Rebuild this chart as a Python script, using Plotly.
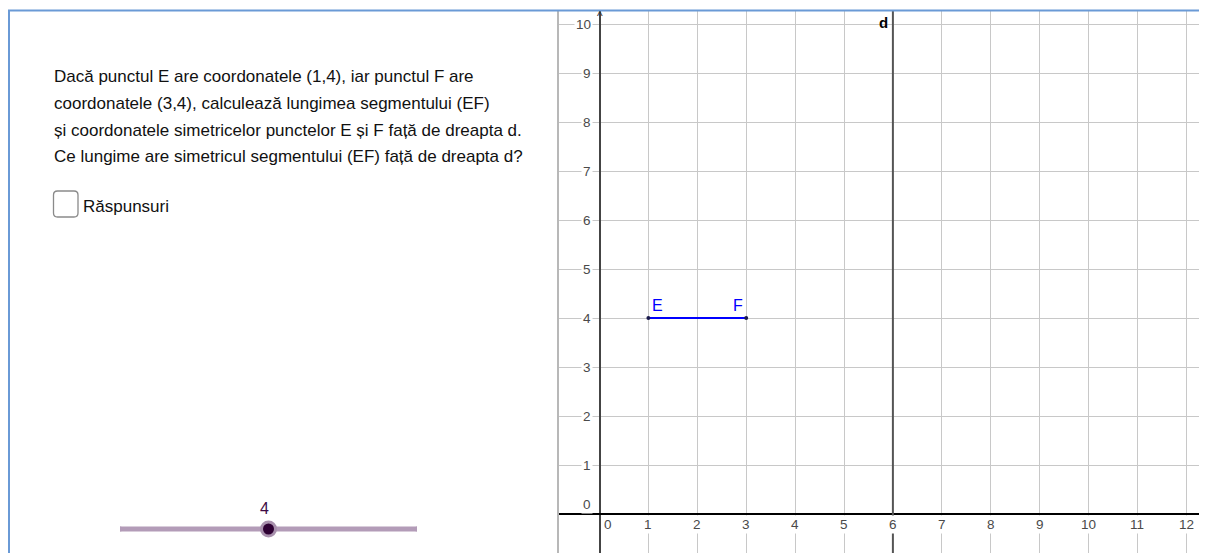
import plotly.graph_objects as go

# ---------------- data ----------------
x_ticks = [1, 2, 3, 4, 5, 6, 7, 8, 9, 10, 11, 12]
y_ticks = [1, 2, 3, 4, 5, 6, 7, 8, 9, 10]
origin_label = "0"

seg_labels = ["E", "F"]
seg_x = [1, 3]
seg_y = [4, 4]

line_d_x = 6
line_d_label = "d"

question_lines = [
    "Dacă punctul E are coordonatele (1,4), iar punctul F are",
    "coordonatele (3,4), calculează lungimea segmentului (EF)",
    "și coordonatele simetricelor punctelor E și F față de dreapta d.",
    "Ce lungime are simetricul segmentului (EF) față de dreapta d?",
]
checkbox_label = "Răspunsuri"

slider_min = 0
slider_max = 8
slider_value = 4

# ---------------- layout constants ----------------
OFF = 8                      # page body margin
W, H = 1207 - OFF, 553 - OFF
FONT = "Liberation Sans, Arial, sans-serif"
x_range = [(558 - 599.5) / 48.9, (1207 - 599.5) / 48.9]
y_range = [(514 - 553) / 49.0, (514 - 11) / 49.0]


def px(x):
    return (x - OFF) / W


def py(y):
    return 1 - (y - OFF) / H


top_frac = py(11)

fig = go.Figure()

# segment EF
fig.add_trace(go.Scatter(
    x=seg_x, y=seg_y, mode="lines+markers+text",
    line=dict(color="#0000ff", width=2),
    marker=dict(size=4, color="#1a1a4d"),
    text=seg_labels, textposition=["top right", "top left"],
    textfont=dict(family=FONT, size=16, color="#0000ff"),
    xaxis="x", yaxis="y", hoverinfo="skip", showlegend=False,
))

# slider track and knob
fig.add_trace(go.Scatter(
    x=[slider_min, slider_max], y=[0, 0], mode="lines+markers",
    line=dict(color="#b39cb8", width=5),
    marker=dict(size=5, color="#b39cb8"),
    xaxis="x2", yaxis="y2", hoverinfo="skip", showlegend=False,
))
fig.add_trace(go.Scatter(
    x=[slider_value], y=[0], mode="markers",
    marker=dict(size=17, color="#a890ad"),
    xaxis="x2", yaxis="y2", hoverinfo="skip", showlegend=False,
))
fig.add_trace(go.Scatter(
    x=[slider_value], y=[0], mode="markers",
    marker=dict(size=11, color="#2e0033"),
    xaxis="x2", yaxis="y2", hoverinfo="skip", showlegend=False,
))

TICKFONT = dict(family=FONT, size=13.5, color="#4a4a4a")
annotations = []
# tick labels
for v in x_ticks:
    annotations.append(dict(x=v, y=0, xref="x", yref="y", text=str(v), showarrow=False,
                            yshift=-10, font=TICKFONT, bgcolor="white", borderpad=1))
for v in y_ticks:
    annotations.append(dict(x=0, y=v, xref="x", yref="y", text=str(v), showarrow=False,
                            xanchor="right", xshift=-7, font=TICKFONT,
                            bgcolor="white", borderpad=1))
annotations.append(dict(x=0, y=0, xref="x", yref="y", text=origin_label, showarrow=False,
                        xanchor="left", xshift=2, yshift=-10, font=TICKFONT, bgcolor="white"))
annotations.append(dict(x=0, y=0, xref="x", yref="y", text=origin_label, showarrow=False,
                        xanchor="right", xshift=-7, yshift=10, font=TICKFONT, bgcolor="white"))
# y-axis arrow
annotations.append(dict(x=0, y=y_range[1], xref="x", yref="y", text="^", showarrow=False,
                        yanchor="top", yshift=4, font=dict(family=FONT, size=12, color="#333")))
# line d label
annotations.append(dict(x=line_d_x, y=y_range[1], xref="x", yref="y", text="<b>" + line_d_label + "</b>",
                        showarrow=False, xanchor="right", yanchor="top", xshift=-3, yshift=-1,
                        font=dict(family=FONT, size=15, color="#000")))
# question text
for i, line in enumerate(question_lines):
    annotations.append(dict(x=px(52), y=py(76 + 27 * i), xref="paper", yref="paper", text=line,
                            showarrow=False, xanchor="left", yanchor="middle",
                            font=dict(family=FONT, size=17, color="#111")))
annotations.append(dict(x=px(81), y=py(206), xref="paper", yref="paper", text=checkbox_label,
                        showarrow=False, xanchor="left", yanchor="middle",
                        font=dict(family=FONT, size=17, color="#111")))
# slider value
annotations.append(dict(x=slider_value, y=0, xref="x2", yref="y2", text=str(slider_value),
                        showarrow=False, yshift=21, xshift=-4,
                        font=dict(family=FONT, size=16, color="#3d0a45")))

# checkbox rounded rect path (paper coords)
x0, x1, y0, y1, r = px(53.5), px(78), py(191), py(217), 4
rx, ry = r / W, r / H
cb_path = (f"M {x0+rx},{y0} L {x1-rx},{y0} Q {x1},{y0} {x1},{y0-ry} "
           f"L {x1},{y1+ry} Q {x1},{y1} {x1-rx},{y1} L {x0+rx},{y1} Q {x0},{y1} {x0},{y1+ry} "
           f"L {x0},{y0-ry} Q {x0},{y0} {x0+rx},{y0} Z")

shapes = [
    # line d
    dict(type="line", xref="x", yref="paper", x0=line_d_x, x1=line_d_x, y0=0, y1=top_frac,
         line=dict(color="#555555", width=2)),
    # divider between panels
    dict(type="line", xref="paper", yref="paper", x0=px(558), x1=px(558), y0=0, y1=top_frac,
         line=dict(color="#b8b8b8", width=2)),
    # top blue border
    dict(type="line", xref="paper", yref="paper", x0=0, x1=1, y0=py(10.5), y1=py(10.5),
         line=dict(color="#6a9ad6", width=2)),
    # left blue border
    dict(type="line", xref="paper", yref="paper", x0=px(9), x1=px(9), y0=0, y1=py(10.5),
         line=dict(color="#6a9ad6", width=2)),
    # checkbox
    dict(type="path", xref="paper", yref="paper", path=cb_path,
         line=dict(color="#8a8a8a", width=1.3), fillcolor="white"),
]

fig.update_layout(
    width=W, height=H, margin=dict(l=0, r=0, t=0, b=0),
    paper_bgcolor="white", plot_bgcolor="white",
    xaxis=dict(domain=[px(558), 1], range=x_range, dtick=1, tick0=0,
               showgrid=True, gridcolor="#c8c8c8", gridwidth=1,
               zeroline=True, zerolinecolor="#444", zerolinewidth=1.5,
               showticklabels=False, ticks="", fixedrange=True),
    yaxis=dict(domain=[0, top_frac], range=y_range, dtick=1, tick0=0,
               showgrid=True, gridcolor="#c8c8c8", gridwidth=1,
               zeroline=True, zerolinecolor="#000", zerolinewidth=1.5,
               showticklabels=False, ticks="", fixedrange=True),
    xaxis2=dict(domain=[px(120), px(417)], range=[slider_min, slider_max],
                visible=False, fixedrange=True),
    yaxis2=dict(domain=[py(529) - 0.03, py(529) + 0.03], range=[-1, 1], anchor="x2",
                visible=False, fixedrange=True),
    annotations=annotations,
    shapes=shapes,
    showlegend=False,
)

fig.write_html("out.html")
